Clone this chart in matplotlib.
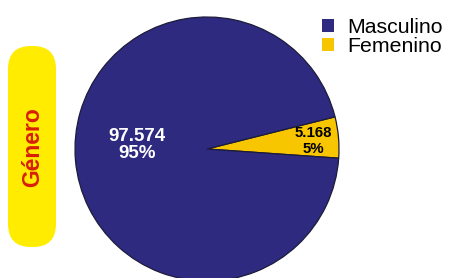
import matplotlib.pyplot as plt
from matplotlib.patches import FancyBboxPatch, Patch

plt.rcParams["font.family"] = ["Liberation Sans", "DejaVu Sans"]

# data
categorias = ["Femenino", "Masculino"]
valores = [5168, 97574]
porcentajes = [5, 95]
colores = ["#F8C600", "#2D2A80"]
titulo = "Género"

W, H = 451, 278
fig = plt.figure(figsize=(W / 100, H / 100), dpi=100)
ax = fig.add_axes([0, 0, 1, 1])

def fmt(v):
    return f"{v:,}".replace(",", ".")

wedges, _ = ax.pie(valores, colors=colores, startangle=-4, counterclock=True,
                   center=(207, 129), radius=132,
                   wedgeprops=dict(edgecolor="#1c1c3a", linewidth=0.9))

# pie() resets the limits, so set them afterwards
ax.set_xlim(0, W)
ax.set_ylim(0, H)
ax.set_aspect("equal")
ax.axis("off")

# yellow rounded label bar
bar = FancyBboxPatch((8, 31), 48, 201, boxstyle="round,pad=0,rounding_size=23",
                     facecolor="#FFEC00", edgecolor="none")
ax.add_patch(bar)
ax.text(33, 131, titulo, rotation=90, ha="center", va="center",
        fontsize=16.5, fontweight="bold", color="#D81E05")

# value labels
ax.text(137, 133, f"{fmt(valores[1])}\n{porcentajes[1]}%", ha="center", va="center",
        color="white", fontsize=13.5, fontweight="bold", linespacing=1.05)
ax.text(313, 137, f"{fmt(valores[0])}\n{porcentajes[0]}%", ha="center", va="center",
        color="black", fontsize=10.8, fontweight="bold", linespacing=1.1)

handles = [Patch(facecolor=colores[1], label=categorias[1]),
           Patch(facecolor=colores[0], label=categorias[0])]
fig.legend(handles=handles, loc="upper left", bbox_to_anchor=(322 / W, 1 - 18 / H),
           frameon=False, fontsize=15.3, handlelength=0.55, handleheight=0.55,
           handletextpad=0.65, labelspacing=0.0, borderpad=0, borderaxespad=0)

fig.savefig("out.png", dpi=100)
